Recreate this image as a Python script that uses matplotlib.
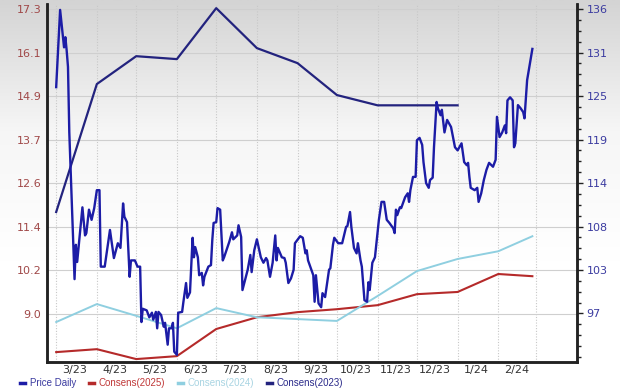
import numpy as np
import pandas as pd
import matplotlib
matplotlib.use("Agg")
import matplotlib.pyplot as plt
import matplotlib.dates as mdates
from matplotlib.ticker import FixedLocator, AutoMinorLocator, FuncFormatter
from matplotlib.lines import Line2D

start = pd.Timestamp("2023-03-01")

# daily price (right axis): day offset from 2023-03-01, price
price_days = [0, 3, 6, 7, 8, 9, 10, 14, 15, 16, 20, 22, 23, 25, 27, 29, 31, 33, 34, 37,
              41, 44, 47, 49, 51, 52, 54, 56, 57, 60, 62, 64, 65, 66, 69, 71, 73, 74, 76, 77,
              78, 80, 82, 83, 85, 86, 88, 89, 90, 92, 93, 96, 97, 99, 100, 102, 104, 105, 106, 108,
              109, 111, 112, 113, 116, 118, 119, 120, 122, 123, 125, 127, 128, 132, 134, 135, 138, 139, 141, 142,
              146, 148, 149, 151, 153, 156, 158, 160, 161, 163, 165, 167, 168, 169, 172, 174, 175, 177, 179, 181,
              182, 186, 188, 190, 191, 192, 196, 197, 198, 200, 202, 203, 205, 208, 209, 211, 212, 215, 218, 221,
              222, 224, 225, 227, 229, 230, 232, 233, 235, 237, 238, 239, 241, 243, 246, 248, 250, 252, 254, 257,
              258, 259, 260, 262, 263, 266, 268, 269, 270, 272, 274, 275, 277, 279, 280, 282, 284, 285, 287, 288,
              290, 291, 293, 294, 296, 298, 301, 304, 306, 309, 311, 313, 314, 315, 316, 319, 321, 322, 324, 326,
              328, 330, 333, 335, 336, 338, 340, 342, 343, 344, 346, 348, 349, 350, 352, 354, 356, 357, 359, 363]
price = [126.0, 135.9, 131.1, 132.4, 130.7, 128.6, 120.2, 101.4, 105.8, 103.6, 110.6, 107.0, 107.3, 110.3, 109.0, 110.5, 112.8, 112.8, 103.0, 103.0,
         107.7, 104.1, 106.0, 105.4, 111.1, 109.4, 108.7, 101.7, 103.8, 103.8, 103.0, 103.0, 95.9, 97.6, 97.4, 96.5, 97.1, 96.2, 97.2, 95.1,
         97.2, 96.8, 95.3, 95.8, 93.0, 95.1, 95.1, 95.8, 92.1, 91.7, 97.1, 97.2, 98.5, 100.9, 99.0, 99.7, 106.7, 104.2, 105.5, 104.2,
         101.9, 102.2, 100.6, 101.7, 103.0, 103.2, 106.4, 108.6, 108.7, 110.5, 110.3, 103.8, 104.2, 106.2, 107.4, 106.5, 107.0, 108.3, 106.8, 100.0,
         102.6, 104.5, 102.3, 105.1, 106.5, 104.2, 103.5, 104.1, 103.8, 101.7, 103.5, 107.0, 103.8, 105.4, 104.2, 104.1, 103.5, 100.9, 101.5, 102.6,
         106.0, 106.9, 106.7, 104.7, 105.1, 103.8, 101.9, 98.5, 101.9, 98.3, 97.8, 99.6, 99.1, 102.6, 102.8, 105.8, 106.7, 106.0, 106.0, 108.1,
         108.2, 110.0, 108.1, 105.4, 104.7, 106.0, 103.8, 103.0, 98.7, 98.5, 101.0, 100.0, 103.5, 104.2, 109.0, 111.3, 111.3, 109.0, 108.6, 107.9,
         107.3, 110.3, 109.6, 110.6, 110.5, 111.9, 112.4, 111.3, 112.8, 114.5, 114.5, 119.2, 119.5, 118.6, 116.4, 113.7, 113.1, 114.1, 114.4, 118.3,
         124.1, 123.3, 122.4, 123.1, 120.2, 121.8, 120.9, 118.3, 117.9, 118.8, 116.4, 116.0, 116.3, 114.5, 113.1, 112.8, 113.1, 111.3, 112.4, 114.1,
         115.4, 116.3, 115.8, 116.7, 122.2, 119.6, 120.2, 121.1, 120.1, 124.3, 124.7, 124.3, 118.3, 118.8, 123.7, 123.3, 122.8, 122.0, 126.9, 130.9]

# consensus estimates (left axis)
cons_days = [0, 31, 61, 92, 122, 153, 184, 214, 245, 275, 306, 337, 363]
cons2025 = [7.95, 8.03, 7.76, 7.84, 8.58, 8.90, 9.04, 9.12, 9.23, 9.53, 9.59, 10.08, 10.02]
cons2024 = [8.77, 9.26, 8.94, 8.60, 9.15, 8.90, 8.85, 8.80, 9.48, 10.16, 10.49, 10.70, 11.11]
cons2023_days = [0, 31, 61, 92, 122, 153, 184, 214, 245, 275, 306]
cons2023 = [11.77, 15.26, 16.02, 15.94, 17.33, 16.24, 15.83, 14.96, 14.68, 14.68, 14.68]

left_ticks = ["9.0", "10.2", "11.4", "12.6", "13.7", "14.9", "16.1", "17.3"]
right_ticks = ["97", "103", "108", "114", "119", "125", "131", "136"]

to_dates = lambda days: start + pd.to_timedelta(days, unit="D")

fig = plt.figure(figsize=(6.2, 3.92), dpi=100)

# gray-to-white background gradient
bg = fig.add_axes([0, 0, 1, 1], zorder=-10)
grad = np.linspace(0, 1, 256).reshape(-1, 1)
bg.imshow(grad, aspect="auto", cmap=matplotlib.colors.LinearSegmentedColormap.from_list(
    "g", ["#d4d4d4", "#f6f6f6", "#ffffff", "#ffffff"]), extent=[0, 1, 0, 1])
bg.axis("off")

ax = fig.add_axes([0.0758, 0.0765, 0.8548, 0.913])
ax.patch.set_alpha(0)
ax2 = ax.twinx()

ax.plot(to_dates(cons_days), cons2025, color="#b52a2a", lw=1.5, zorder=3)
ax.plot(to_dates(cons_days), cons2024, color="#8fcfe0", lw=1.4, zorder=3)
ax.plot(to_dates(cons2023_days), cons2023, color="#23237e", lw=1.6, zorder=3)
ax2.plot(to_dates(price_days), price, color="#1c1ca6", lw=1.7, zorder=4)

ax.set_ylim(7.68, 17.44)
ax2.set_ylim(90.78, 136.64)
lpos = np.linspace(9.0, 17.3, 8)
rpos = np.linspace(97, 136, 8)
ax.yaxis.set_major_locator(FixedLocator(lpos))
ax.set_yticklabels(left_ticks)
ax2.yaxis.set_major_locator(FixedLocator(rpos))
ax2.set_yticklabels(right_ticks)
ax2.yaxis.set_minor_locator(AutoMinorLocator(4))

ax.set_xlim(to_dates([-7])[0], to_dates([397])[0])
ax.xaxis.set_major_locator(mdates.MonthLocator())
ax.xaxis.set_major_formatter(FuncFormatter(lambda v, p: ""))
ax.xaxis.set_minor_locator(mdates.MonthLocator(bymonthday=15))
ax.xaxis.set_minor_formatter(FuncFormatter(
    lambda v, p: "" if mdates.num2date(v).date() > pd.Timestamp("2024-02-20").date()
    else f"{mdates.num2date(v).month}/{mdates.num2date(v).strftime('%y')}"))

ax.grid(True, axis="y", color="#cfcfcf", lw=0.8)
ax.grid(True, axis="x", which="major", color="#c8c8c8", lw=0.8, ls=(0, (1, 1.5)))

for a in (ax, ax2):
    a.spines["top"].set_visible(False)
    a.spines["left"].set_linewidth(1.8)
    a.spines["right"].set_linewidth(1.8)
    a.spines["bottom"].set_linewidth(1.8)
    for s in a.spines.values():
        s.set_color("#222222")

ax.tick_params(axis="y", length=0, labelsize=8, labelcolor="#a04848", pad=4)
ax.tick_params(axis="x", which="major", length=0)
ax.tick_params(axis="x", which="minor", length=0, labelsize=8, labelcolor="#333333", pad=2)
ax2.tick_params(axis="y", which="major", length=4, width=1, labelsize=8, labelcolor="#3b3ba0", pad=3, color="#222222")
ax2.tick_params(axis="y", which="minor", length=3, width=1, color="#222222")

handles = [Line2D([], [], color="#1c1ca6", lw=2.5),
           Line2D([], [], color="#b52a2a", lw=2.5),
           Line2D([], [], color="#8fcfe0", lw=2.5),
           Line2D([], [], color="#23237e", lw=2.5)]
labels = ["Price Daily", "Consens(2025)", "Consens(2024)", "Consens(2023)"]
leg = fig.legend(handles, labels, loc="center left", bbox_to_anchor=(0.033, 0.022), ncol=4,
                 frameon=False, prop={"family": "Liberation Sans", "size": 7},
                 handlelength=0.5, handletextpad=0.5, columnspacing=1.3, borderpad=0, borderaxespad=0)
for t, c in zip(leg.get_texts(), ["#3b3ba0", "#c03838", "#a8d4e2", "#2a2a8a"]):
    t.set_color(c)

fig.savefig("out.png", dpi=100)
